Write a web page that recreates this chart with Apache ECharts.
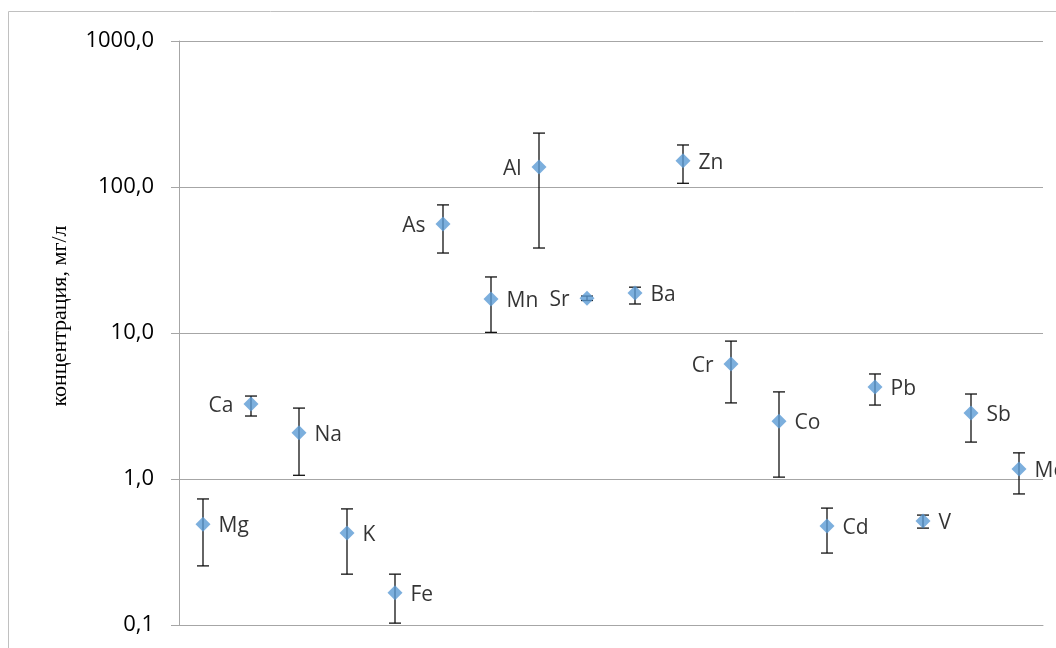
<!DOCTYPE html>
<html>
<head>
<meta charset="utf-8">
<style>
  html, body { margin: 0; padding: 0; background: #fff; }
  #chart { width: 1056px; height: 648px; }
</style>
<script src="https://cdn.jsdelivr.net/npm/echarts@6/dist/echarts.min.js"></script>
</head>
<body>
<div id="chart"></div>
<script>
  // элементы и концентрации, мг/л
  var elements = ['Mg', 'Ca', 'Na', 'K', 'Fe', 'As', 'Mn', 'Al', 'Sr', 'Ba', 'Zn', 'Cr', 'Co', 'Cd', 'Pb', 'V', 'Sb', 'Mo'];
  var means = [0.49, 3.26, 2.07, 0.426, 0.166, 55.8, 17.1, 137, 17.3, 18.8, 151, 6.14, 2.49, 0.477, 4.27, 0.515, 2.83, 1.17];
  var lows  = [0.254, 2.7, 1.06, 0.223, 0.103, 35.3, 10.1, 38.2, 16.7, 15.8, 106, 3.32, 1.03, 0.311, 3.21, 0.461, 1.79, 0.79];
  var highs = [0.73, 3.7, 3.06, 0.624, 0.223, 75.4, 24.2, 234, 17.9, 20.6, 194, 8.8, 3.95, 0.632, 5.24, 0.566, 3.82, 1.51];
  var yTicks = [0.1, 1, 10, 100, 1000];
  // подписи слева от маркера
  var leftLabeled = ['Ca', 'As', 'Al', 'Sr', 'Cr'];

  var myChart = echarts.init(document.getElementById('chart'));

  var pointData = elements.map(function (name, i) {
    var left = leftLabeled.indexOf(name) >= 0;
    return {
      value: [i, means[i]],
      name: name,
      label: { position: left ? 'left' : 'right', distance: left ? 10 : 8 }
    };
  });
  var errData = elements.map(function (name, i) {
    return [i, lows[i], highs[i]];
  });

  var option = {
    animation: false,
    graphic: [{
      type: 'rect',
      shape: { x: 8.5, y: 11.5, width: 1200, height: 800 },
      style: { fill: 'none', stroke: '#c0c0c0', lineWidth: 1 },
      silent: true
    }],
    grid: { left: 179, top: 41, width: 864, height: 584 },
    xAxis: {
      type: 'category',
      data: elements,
      boundaryGap: true,
      axisLine: { show: true, lineStyle: { color: '#a6a6a6' } },
      axisTick: { show: false },
      axisLabel: { show: false },
      splitLine: { show: false }
    },
    yAxis: {
      type: 'log',
      logBase: 10,
      min: 0.1,
      max: 1000,
      name: 'концентрация, мг/л',
      nameLocation: 'middle',
      nameRotate: 90,
      nameGap: 108,
      nameTextStyle: { fontFamily: 'Liberation Serif', fontSize: 22, color: '#000', padding: [0, 0, 0, 34] },
      axisLine: { show: true, lineStyle: { color: '#a6a6a6' } },
      axisTick: { show: true, inside: false, length: 8, lineStyle: { color: '#a6a6a6' } },
      axisLabel: {
        fontFamily: 'Open Sans',
        fontSize: 22,
        color: '#000',
        margin: 25,
        formatter: function (v) {
          var t = yTicks.filter(function (k) { return Math.abs(k - v) / k < 1e-6; });
          if (!t.length) return '';
          return t[0].toFixed(1).replace('.', ',');
        }
      },
      splitLine: { show: true, lineStyle: { color: '#a6a6a6', width: 1 } }
    },
    series: [
      {
        name: 'err',
        type: 'custom',
        z: 2,
        data: errData,
        renderItem: function (params, api) {
          var lo = api.coord([api.value(0), api.value(1)]);
          var hi = api.coord([api.value(0), api.value(2)]);
          var hw = 6;
          var st = { stroke: '#111', lineWidth: 1.3 };
          return {
            type: 'group',
            children: [
              { type: 'line', shape: { x1: lo[0], y1: lo[1], x2: hi[0], y2: hi[1] }, style: st },
              { type: 'line', shape: { x1: lo[0] - hw, y1: lo[1], x2: lo[0] + hw, y2: lo[1] }, style: st },
              { type: 'line', shape: { x1: hi[0] - hw, y1: hi[1], x2: hi[0] + hw, y2: hi[1] }, style: st }
            ]
          };
        }
      },
      {
        name: 'mean',
        type: 'scatter',
        z: 3,
        symbol: 'diamond',
        symbolSize: [15, 15],
        itemStyle: { color: '#5b9bd5' },
        data: pointData,
        label: {
          show: true,
          formatter: '{b}',
          fontFamily: 'Open Sans',
          fontSize: 21,
          color: '#000',
          offset: [0, 2]
        }
      }
    ]
  };

  myChart.setOption(option);
</script>
</body>
</html>
